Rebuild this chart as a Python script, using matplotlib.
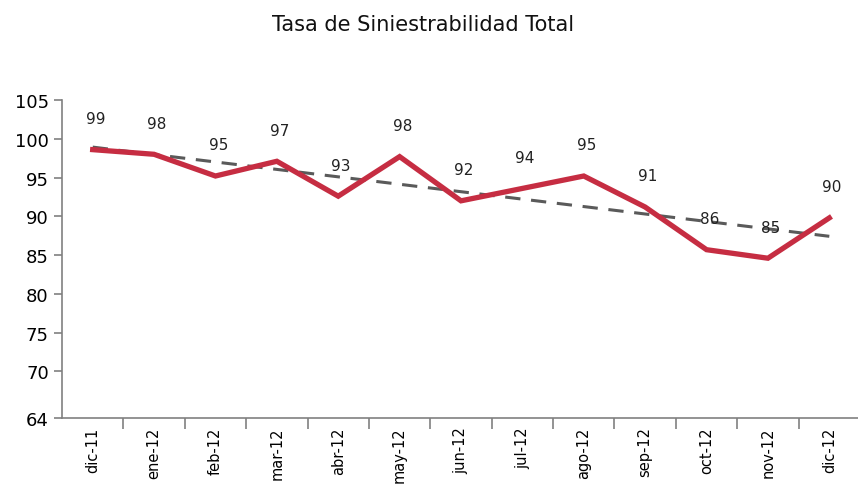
import matplotlib.pyplot as plt
import numpy as np

months = ["dic-11", "ene-12", "feb-12", "mar-12", "abr-12", "may-12", "jun-12",
          "jul-12", "ago-12", "sep-12", "oct-12", "nov-12", "dic-12"]
tasa = [98.6, 98.0, 95.2, 97.1, 92.6, 97.7, 92.0, 93.6, 95.2, 91.2, 85.7, 84.6, 89.8]
y_ticks = [64, 70, 75, 80, 85, 90, 95, 100, 105]

x = np.arange(len(months))
slope, intercept = np.polyfit(x, tasa, 1)
trend = slope * x + intercept

fig = plt.figure(figsize=(8.58, 4.89), dpi=100)
ax = fig.add_axes([62 / 858, 1 - 419 / 489, 798 / 858, 318 / 489])

ax.plot(x, trend, color="#5a5a5a", linewidth=2.2, linestyle=(0, (5, 3.5)))
ax.plot(x, tasa, color="#c62d42", linewidth=3.8, solid_joinstyle="miter")

for xi, v in zip(x, tasa):
    ax.annotate(f"{v:.0f}", (xi, v), xytext=(2, 17), textcoords="offset points",
                ha="center", va="bottom", fontsize=11, color="#222222")

ax.set_xlim(-0.5, len(months) - 0.5)
ax.set_ylim(64, 105)
ax.set_yticks(y_ticks)
ax.set_xticks(x)
ax.set_xticklabels(months, rotation=90, fontsize=10.5)
ax.set_xticks(np.arange(len(months)) + 0.5, minor=True)
ax.tick_params(axis="x", which="major", length=0, pad=6)
ax.tick_params(axis="x", which="minor", length=8, color="#808080", width=1.2)
ax.tick_params(axis="y", length=6, color="#808080", width=1.2, labelsize=13)

for side in ["top", "right"]:
    ax.spines[side].set_visible(False)
for side in ["left", "bottom"]:
    ax.spines[side].set_color("#808080")
    ax.spines[side].set_linewidth(1.2)

fig.text(0.493, 0.948, "Tasa de Siniestrabilidad Total", ha="center", va="center",
         fontsize=15, color="#111111")

fig.savefig("out.png", dpi=100)
